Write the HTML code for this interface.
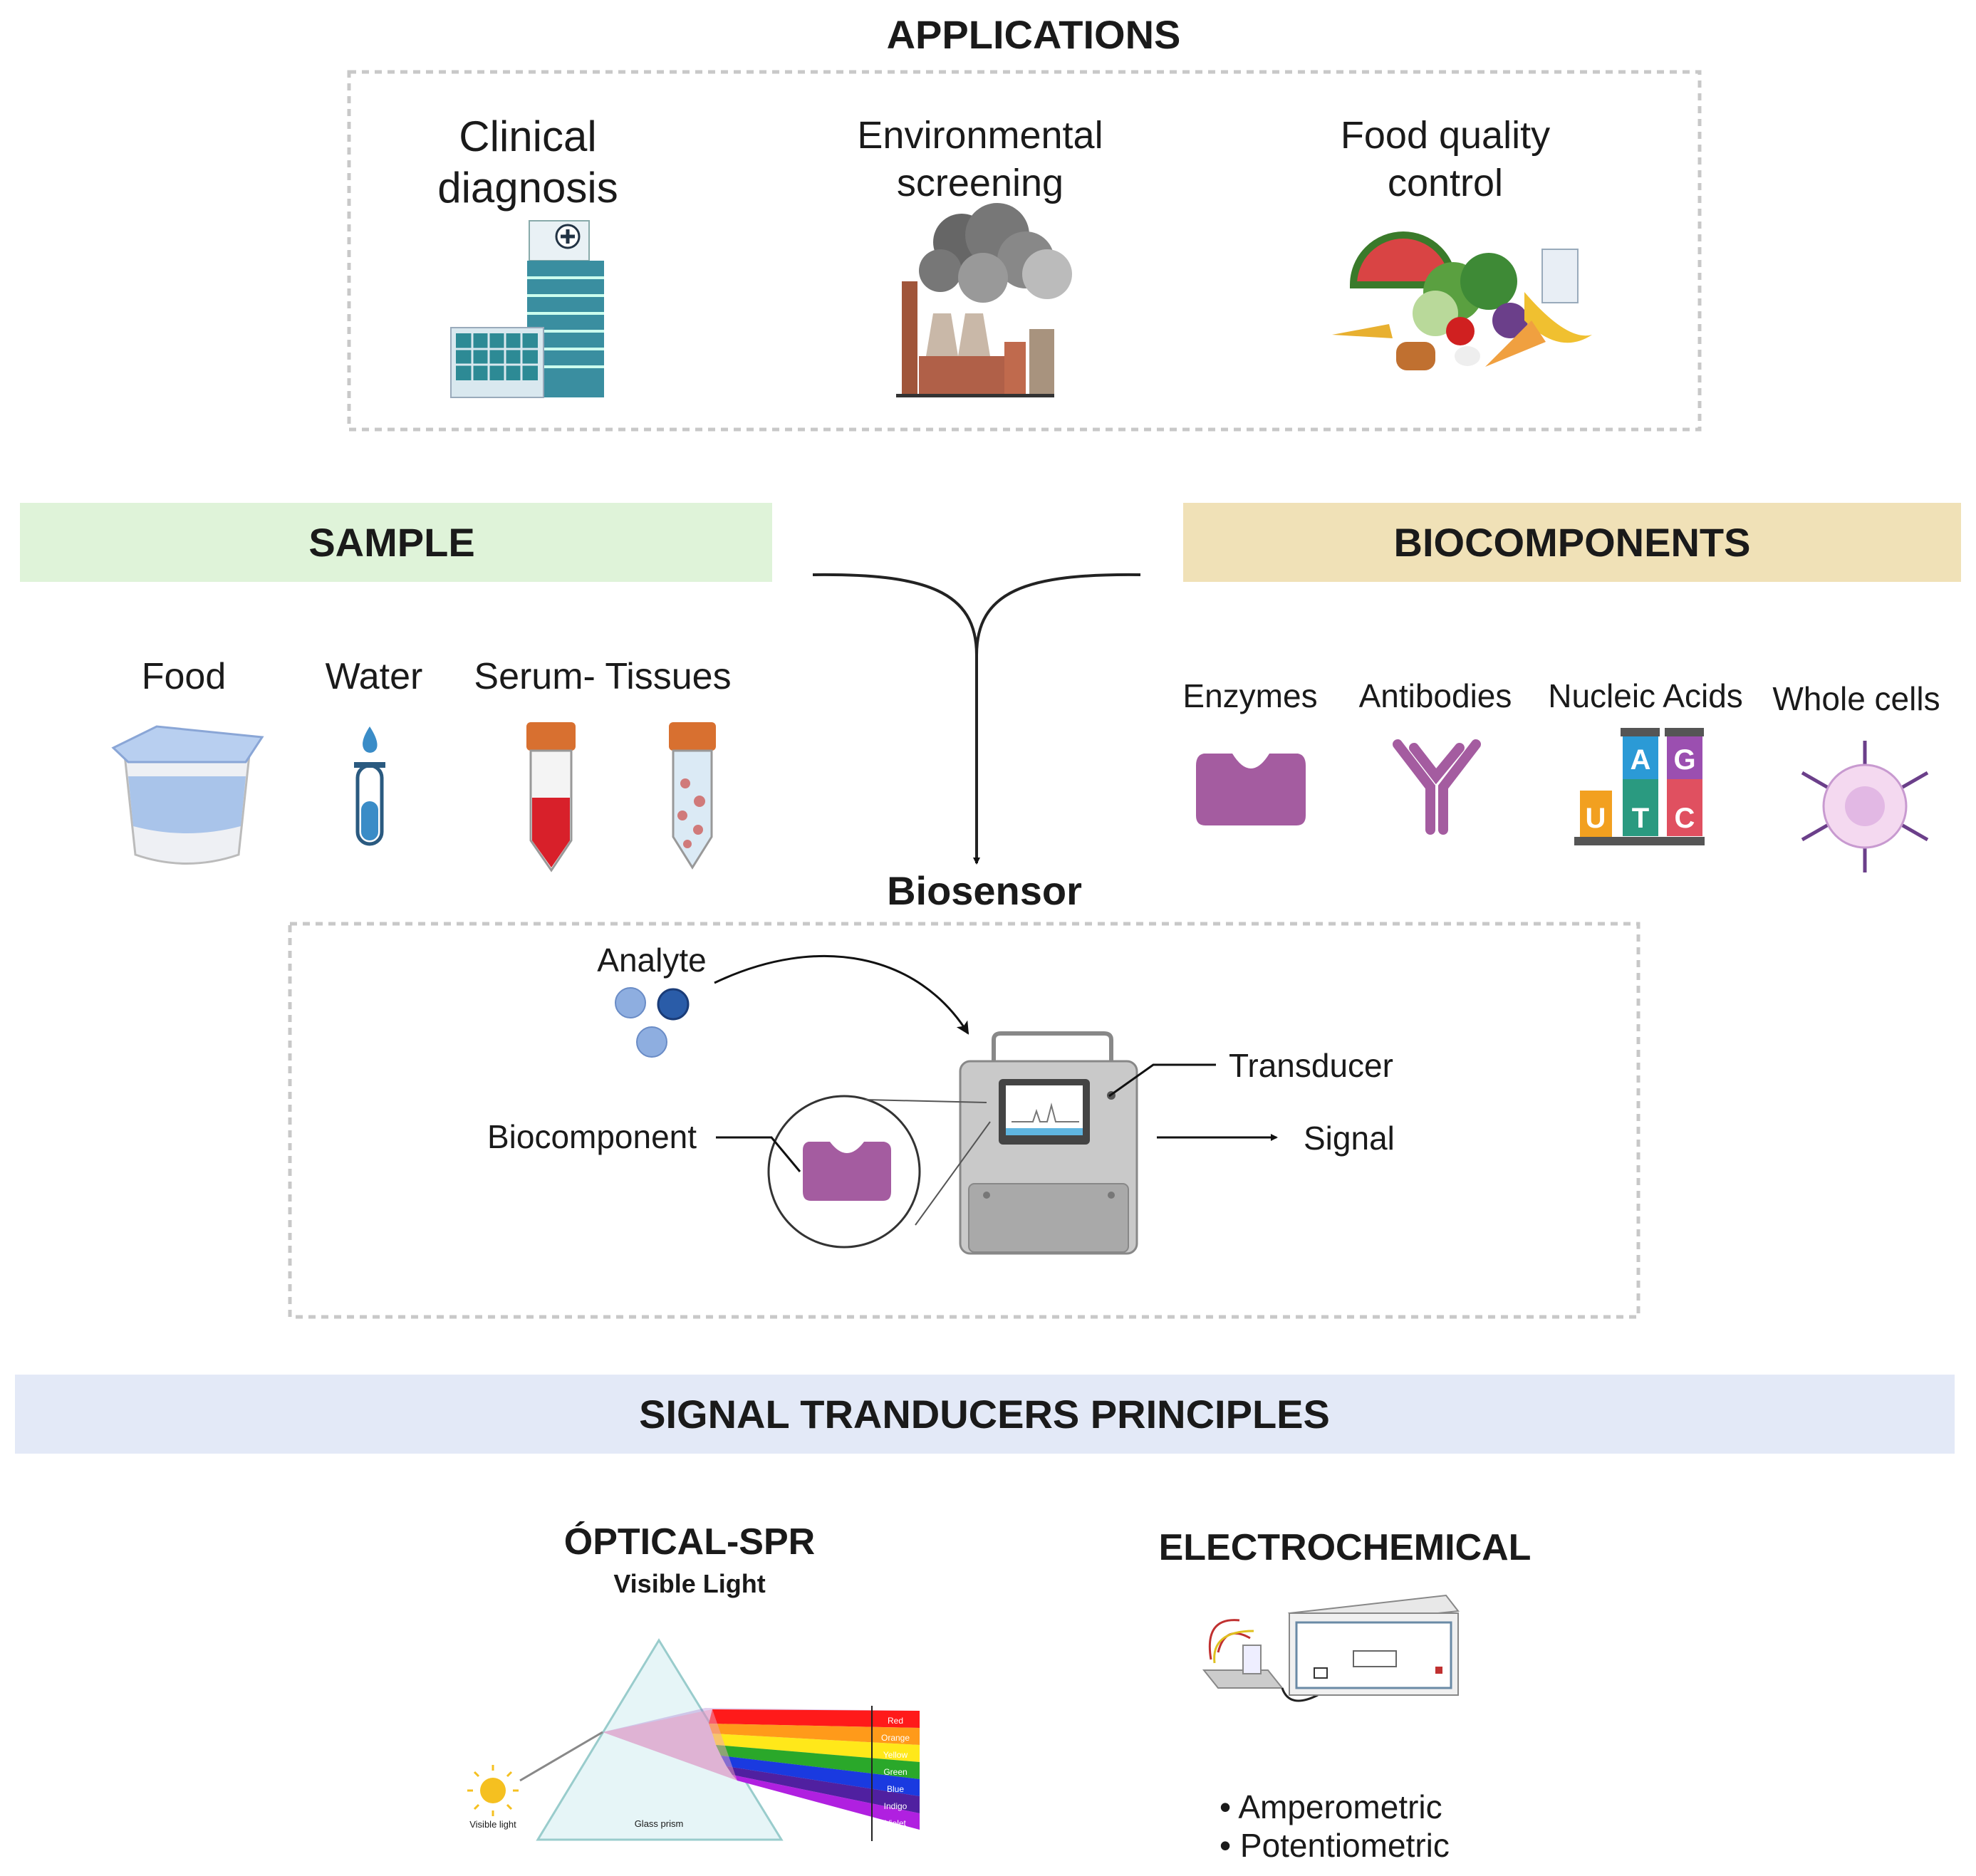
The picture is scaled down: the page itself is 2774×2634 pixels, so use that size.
<!DOCTYPE html>
<html><head><meta charset="utf-8"><style>
html,body{margin:0;padding:0;background:#fff;}
svg{display:block;}
text{font-family:"Liberation Sans",sans-serif;fill:#1a1a1a;}
</style></head><body>
<svg width="2774" height="2634" viewBox="0 0 2774 2634" xmlns="http://www.w3.org/2000/svg">
<defs>
<marker id="ah" markerWidth="10" markerHeight="10" refX="8" refY="5" orient="auto" markerUnits="userSpaceOnUse"><path d="M0,0 L10,5 L0,10 z" fill="#111"/></marker>
<marker id="ah2" markerWidth="18" markerHeight="18" refX="16" refY="9" orient="auto" markerUnits="userSpaceOnUse"><path d="M0,0 L18,9 L0,18 L4,9 z" fill="#111"/></marker>
</defs>

<!-- APPLICATIONS -->
<text x="1451" y="68" font-size="56" font-weight="bold" text-anchor="middle">APPLICATIONS</text>
<rect x="490" y="101" width="1896" height="502" fill="none" stroke="#c8c8c8" stroke-width="5" stroke-dasharray="10,8"/>
<text x="741" y="212" font-size="60" text-anchor="middle">Clinical</text>
<text x="741" y="284" font-size="60" text-anchor="middle">diagnosis</text>
<text x="1376" y="208" font-size="54" text-anchor="middle">Environmental</text>
<text x="1376" y="275" font-size="54" text-anchor="middle">screening</text>
<text x="2029" y="208" font-size="54" text-anchor="middle">Food quality</text>
<text x="2029" y="275" font-size="54" text-anchor="middle">control</text>

<!-- hospital -->
<g>
<rect x="743" y="310" width="84" height="56" fill="#e9f1f5" stroke="#8aa" stroke-width="2"/>
<circle cx="797" cy="332" r="16" fill="#fff" stroke="#234" stroke-width="3"/>
<path d="M797,322 v20 M787,332 h20" stroke="#234" stroke-width="5"/>
<rect x="740" y="366" width="108" height="192" fill="#3a8ea0"/>
<g stroke="#cfe" stroke-width="4"><path d="M740,390h108M740,415h108M740,440h108M740,465h108M740,490h108M740,515h108"/></g>
<rect x="633" y="460" width="130" height="98" fill="#d9e8ef" stroke="#9ab" stroke-width="2"/>
<g fill="#2d8a95"><rect x="640" y="468" width="115" height="66"/></g>
<g stroke="#d9e8ef" stroke-width="3"><path d="M640,490h115M640,512h115M663,468v66M686,468v66M709,468v66M732,468v66"/></g>
</g>

<!-- factory -->
<g>
<circle cx="1350" cy="340" r="40" fill="#666"/><circle cx="1400" cy="330" r="45" fill="#777"/><circle cx="1440" cy="365" r="40" fill="#888"/><circle cx="1470" cy="385" r="35" fill="#bbb"/><circle cx="1320" cy="380" r="30" fill="#777"/><circle cx="1380" cy="390" r="35" fill="#999"/>
<rect x="1266" y="395" width="22" height="160" fill="#a0553a"/>
<path d="M1300,500 L1310,440 L1335,440 L1345,500z M1345,500 L1355,440 L1380,440 L1390,500z" fill="#c9b8a8"/>
<rect x="1290" y="500" width="120" height="55" fill="#b06048"/>
<rect x="1410" y="480" width="30" height="75" fill="#c06a4d"/>
<rect x="1445" y="462" width="35" height="93" fill="#a8937e"/>
<rect x="1258" y="553" width="222" height="5" fill="#333"/>
</g>

<!-- food -->
<g>
<path d="M1900,400 A70,70 0 0 1 2040,400 z" fill="#d94444" stroke="#3a7a2a" stroke-width="10"/>
<circle cx="2040" cy="410" r="42" fill="#5aa040"/><circle cx="2090" cy="395" r="40" fill="#3e8a36"/>
<circle cx="2015" cy="440" r="32" fill="#b9d99a"/>
<rect x="2165" y="350" width="50" height="75" fill="#e8eef5" stroke="#9ab" stroke-width="2"/>
<circle cx="2120" cy="450" r="25" fill="#6b3f8a"/>
<path d="M2140,410 Q2200,480 2235,470 Q2190,500 2140,450z" fill="#f0c030"/>
<path d="M1870,470 L1950,455 L1955,475z" fill="#e8b030"/>
<rect x="1960" y="480" width="55" height="40" rx="15" fill="#c07030"/>
<circle cx="2050" cy="465" r="20" fill="#d02020"/>
<path d="M2085,515 L2150,450 L2170,480z" fill="#f0a040"/>
<ellipse cx="2060" cy="500" rx="18" ry="14" fill="#eee"/>
</g>

<!-- SAMPLE / BIOCOMPONENTS -->
<rect x="28" y="706" width="1056" height="111" fill="#dff3d9"/>
<text x="550" y="781" font-size="56" font-weight="bold" text-anchor="middle">SAMPLE</text>
<rect x="1661" y="706" width="1092" height="111" fill="#f0e1b7"/>
<text x="2207" y="781" font-size="56" font-weight="bold" text-anchor="middle">BIOCOMPONENTS</text>

<!-- merge arrow -->
<path d="M1141,807 C1300,805 1371,830 1371,920" fill="none" stroke="#222" stroke-width="4"/>
<path d="M1601,807 C1440,805 1371,830 1371,920" fill="none" stroke="#222" stroke-width="4"/>
<line x1="1371" y1="915" x2="1371" y2="1212" stroke="#222" stroke-width="4" marker-end="url(#ah)"/>

<text x="258" y="967" font-size="52" text-anchor="middle">Food</text>
<text x="525" y="967" font-size="52" text-anchor="middle">Water</text>
<text x="846" y="967" font-size="52" text-anchor="middle">Serum- Tissues</text>

<!-- yogurt -->
<g>
<path d="M175,1060 L350,1060 L335,1200 Q262,1225 190,1200z" fill="#eef0f4" stroke="#bbb" stroke-width="3"/>
<path d="M180,1090 L345,1090 L338,1160 Q262,1180 187,1160z" fill="#a9c4ea"/>
<path d="M159,1050 L220,1020 L368,1035 L345,1070 L180,1070z" fill="#b8cff0" stroke="#8aa6d6" stroke-width="3"/>
</g>
<!-- water tube -->
<g>
<path d="M519,1020 Q506,1040 510,1050 A10,10 0 0 0 529,1050 Q532,1040 519,1020z" fill="#3a8cc7"/>
<rect x="502" y="1075" width="34" height="110" rx="17" fill="#fff" stroke="#2a5a80" stroke-width="5"/>
<rect x="507" y="1125" width="24" height="55" rx="12" fill="#3a8cc7"/>
<rect x="497" y="1070" width="44" height="8" fill="#2a5a80"/>
</g>
<!-- red tube -->
<g>
<rect x="739" y="1014" width="69" height="40" rx="6" fill="#d87030"/>
<path d="M745,1054 L802,1054 L802,1180 L774,1222 L745,1180z" fill="#f4f4f4" stroke="#999" stroke-width="3"/>
<path d="M747,1120 L800,1120 L800,1180 L774,1218 L747,1180z" fill="#d8202a"/>
</g>
<!-- tissue tube -->
<g>
<rect x="939" y="1014" width="66" height="40" rx="6" fill="#d87030"/>
<path d="M945,1054 L999,1054 L999,1175 L972,1218 L945,1175z" fill="#dbeaf5" stroke="#999" stroke-width="3"/>
<g fill="#d07a7a"><circle cx="962" cy="1100" r="7"/><circle cx="982" cy="1125" r="8"/><circle cx="958" cy="1145" r="7"/><circle cx="980" cy="1165" r="7"/><circle cx="965" cy="1185" r="6"/></g>
</g>

<!-- biocomponents labels -->
<text x="1755" y="993" font-size="46" text-anchor="middle">Enzymes</text>
<text x="2015" y="993" font-size="46" text-anchor="middle">Antibodies</text>
<text x="2310" y="993" font-size="46" text-anchor="middle">Nucleic Acids</text>
<text x="2606" y="997" font-size="46" text-anchor="middle">Whole cells</text>

<path d="M1690,1058 L1730,1058 Q1756,1100 1782,1058 L1822,1058 Q1833,1060 1833,1075 L1833,1145 Q1833,1159 1820,1159 L1692,1159 Q1679,1159 1679,1145 L1679,1075 Q1679,1060 1690,1058z" fill="#a45ca0"/>
<g stroke="#a45ca0" stroke-width="14" stroke-linecap="round" fill="none">
<path d="M2008,1165 L2008,1105 L1962,1045"/><path d="M2026,1165 L2026,1105 L2072,1045"/>
<path d="M1985,1050 L2016,1090 L2049,1050"/>
</g>
<!-- nucleic -->
<g>
<rect x="2275" y="1022" width="55" height="12" fill="#555"/><rect x="2337" y="1022" width="55" height="12" fill="#555"/>
<rect x="2278" y="1034" width="50" height="60" fill="#2b9ad6"/><text x="2303" y="1080" font-size="40" font-weight="bold" text-anchor="middle" fill="#fff" style="fill:#fff">A</text>
<rect x="2340" y="1034" width="50" height="60" fill="#9b4fb0"/><text x="2365" y="1080" font-size="40" font-weight="bold" text-anchor="middle" style="fill:#fff">G</text>
<rect x="2218" y="1110" width="45" height="65" fill="#f2a020"/><text x="2240" y="1162" font-size="40" font-weight="bold" text-anchor="middle" style="fill:#fff">U</text>
<rect x="2278" y="1094" width="50" height="80" fill="#2a9a80"/><text x="2303" y="1162" font-size="40" font-weight="bold" text-anchor="middle" style="fill:#fff">T</text>
<rect x="2340" y="1094" width="50" height="80" fill="#e05060"/><text x="2365" y="1162" font-size="40" font-weight="bold" text-anchor="middle" style="fill:#fff">C</text>
<rect x="2210" y="1175" width="183" height="12" fill="#555"/>
</g>
<!-- cell -->
<g stroke="#6b3f8a" stroke-width="5">
<path d="M2618,1040V1080M2618,1185V1225M2530,1085L2570,1108M2666,1156L2706,1179M2530,1179L2570,1156M2666,1108L2706,1085"/>
</g>
<circle cx="2618" cy="1132" r="58" fill="#f4d9f0" stroke="#c89ad0" stroke-width="3"/>
<circle cx="2618" cy="1132" r="28" fill="#e2b8e4"/>

<!-- Biosensor -->
<text x="1382" y="1270" font-size="56" font-weight="bold" text-anchor="middle">Biosensor</text>
<rect x="407" y="1297" width="1893" height="552" fill="none" stroke="#c8c8c8" stroke-width="5" stroke-dasharray="10,8"/>
<text x="915" y="1364" font-size="46" text-anchor="middle">Analyte</text>
<circle cx="885" cy="1408" r="21" fill="#8eaee0" stroke="#6a8cc6" stroke-width="2"/>
<circle cx="945" cy="1410" r="21" fill="#2a5ca8" stroke="#1a3c78" stroke-width="3"/>
<circle cx="915" cy="1463" r="21" fill="#8eaee0" stroke="#6a8cc6" stroke-width="2"/>
<path d="M1003,1380 C1150,1310 1290,1340 1359,1451" fill="none" stroke="#111" stroke-width="3" marker-end="url(#ah2)"/>

<!-- device -->
<path d="M1395,1495 L1395,1460 Q1395,1451 1405,1451 L1550,1451 Q1560,1451 1560,1460 L1560,1495" fill="none" stroke="#888" stroke-width="6"/>
<rect x="1348" y="1490" width="248" height="270" rx="14" fill="#c9c9c9" stroke="#888" stroke-width="3"/>
<rect x="1402" y="1515" width="128" height="92" rx="6" fill="#444"/>
<rect x="1412" y="1524" width="108" height="70" fill="#fff"/>
<rect x="1412" y="1584" width="108" height="10" fill="#5fb5e0"/>
<path d="M1420,1575 L1450,1575 L1455,1560 L1460,1575 L1470,1575 L1476,1552 L1482,1575 L1515,1575" fill="none" stroke="#777" stroke-width="2"/>
<rect x="1360" y="1662" width="224" height="96" rx="8" fill="#a9a9a9" stroke="#888" stroke-width="2"/>
<circle cx="1385" cy="1678" r="5" fill="#777"/><circle cx="1560" cy="1678" r="5" fill="#777"/>
<circle cx="1560" cy="1538" r="6" fill="#555"/>
<!-- magnifier -->
<circle cx="1185" cy="1645" r="106" fill="#fff" stroke="#333" stroke-width="3"/>
<line x1="1215" y1="1544" x2="1385" y2="1548" stroke="#555" stroke-width="2"/>
<line x1="1285" y1="1720" x2="1390" y2="1575" stroke="#555" stroke-width="2"/>
<path d="M1135,1603 L1165,1603 Q1189,1635 1213,1603 L1241,1603 Q1251,1605 1251,1615 L1251,1673 Q1251,1686 1240,1686 L1138,1686 Q1127,1686 1127,1673 L1127,1615 Q1127,1605 1135,1603z" fill="#a45ca0"/>
<polyline points="1005,1597 1083,1597 1123,1645" fill="none" stroke="#111" stroke-width="3"/>
<text x="831" y="1612" font-size="46" text-anchor="middle">Biocomponent</text>
<polyline points="1557,1539 1619,1495 1707,1495" fill="none" stroke="#111" stroke-width="3"/>
<text x="1725" y="1512" font-size="46">Transducer</text>
<line x1="1624" y1="1597" x2="1792" y2="1597" stroke="#111" stroke-width="3" marker-end="url(#ah)"/>
<text x="1830" y="1614" font-size="46">Signal</text>

<!-- Signal bar -->
<rect x="21" y="1930" width="2723" height="111" fill="#e3e9f7"/>
<text x="1382" y="2005" font-size="56" font-weight="bold" text-anchor="middle">SIGNAL TRANDUCERS PRINCIPLES</text>

<text x="968" y="2182" font-size="52" font-weight="bold" text-anchor="middle">ÓPTICAL-SPR</text>
<text x="968" y="2236" font-size="36" font-weight="bold" text-anchor="middle">Visible Light</text>
<text x="1888" y="2190" font-size="52" font-weight="bold" text-anchor="middle">ELECTROCHEMICAL</text>

<!-- prism -->
<polygon points="925,2303 755,2583 1097,2583" fill="#e6f5f7" stroke="#9cc" stroke-width="3"/>
<polygon points="846,2432 990,2398 1291,2402 1291,2569 1035,2500" fill="#8a40c0" opacity="0.25"/>
<g>
<polygon points="1000,2400 1291,2402 1291,2426 995,2420" fill="#ff1a1a"/>
<polygon points="995,2420 1291,2426 1291,2450 1000,2434" fill="#ff9a1a"/>
<polygon points="1000,2434 1291,2450 1291,2474 1005,2450" fill="#ffe81a"/>
<polygon points="1005,2450 1291,2474 1291,2498 1012,2465" fill="#2aa82a"/>
<polygon points="1012,2465 1291,2498 1291,2522 1020,2480" fill="#1a3ae0"/>
<polygon points="1020,2480 1291,2522 1291,2546 1028,2492" fill="#5020a0"/>
<polygon points="1028,2492 1291,2546 1291,2569 1035,2500" fill="#b020e0"/>
</g>
<polygon points="846,2432 1000,2400 1035,2500" fill="#f0a0c0" opacity="0.5"/>
<line x1="1224" y1="2395" x2="1224" y2="2585" stroke="#222" stroke-width="2"/>
<g font-size="12" text-anchor="middle"><text x="1257" y="2420" style="fill:#fff">Red</text><text x="1257" y="2444" style="fill:#fff">Orange</text><text x="1257" y="2468" style="fill:#fff">Yellow</text><text x="1257" y="2492" style="fill:#fff">Green</text><text x="1257" y="2516" style="fill:#fff">Blue</text><text x="1257" y="2540" style="fill:#fff">Indigo</text><text x="1257" y="2564" style="fill:#fff">Violet</text></g>
<line x1="730" y1="2500" x2="846" y2="2432" stroke="#888" stroke-width="3"/>
<circle cx="692" cy="2514" r="18" fill="#f5c020"/>
<g stroke="#f5c020" stroke-width="3"><path d="M692,2486v-8M692,2542v8M664,2514h-8M720,2514h8M672,2494l-6,-6M712,2534l6,6M672,2534l-6,6M712,2494l6,-6"/></g>
<text x="692" y="2566" font-size="13" text-anchor="middle">Visible light</text>
<text x="925" y="2565" font-size="13" text-anchor="middle">Glass prism</text>

<!-- electrochemical -->
<g>
<polygon points="1690,2345 1780,2345 1800,2370 1710,2370" fill="#ccc" stroke="#888" stroke-width="2"/>
<rect x="1745" y="2310" width="25" height="40" fill="#eef" stroke="#888" stroke-width="2"/>
<path d="M1700,2330 Q1690,2270 1740,2275 M1710,2320 Q1720,2280 1755,2300" fill="none" stroke="#c03030" stroke-width="3"/>
<path d="M1705,2335 Q1700,2290 1760,2290" fill="none" stroke="#e0c020" stroke-width="3"/>
<path d="M1800,2370 Q1810,2400 1850,2380" fill="none" stroke="#222" stroke-width="3"/>
<polygon points="1810,2265 2030,2240 2047,2262 1830,2285" fill="#e8e8e8" stroke="#888" stroke-width="2"/>
<rect x="1810" y="2265" width="237" height="115" fill="#f0f0f0" stroke="#888" stroke-width="2"/>
<rect x="1820" y="2278" width="217" height="92" fill="#fff" stroke="#6a8aa6" stroke-width="3"/>
<rect x="1900" y="2318" width="60" height="22" fill="#fff" stroke="#666" stroke-width="2"/>
<rect x="2015" y="2340" width="10" height="10" fill="#c03030"/>
<rect x="1845" y="2342" width="18" height="14" fill="#fff" stroke="#333" stroke-width="2"/>
</g>
<text x="1712" y="2553" font-size="46">• Amperometric</text>
<text x="1712" y="2607" font-size="46">• Potentiometric</text>
</svg>
</body></html>
